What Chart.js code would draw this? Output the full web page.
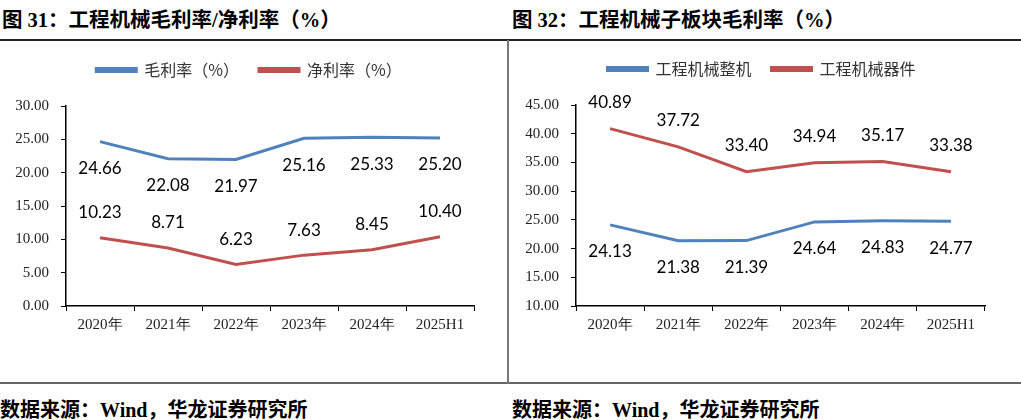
<!DOCTYPE html>
<html lang="zh">
<head>
<meta charset="UTF-8">
<title>工程机械毛利率</title>
<script src="https://cdn.jsdelivr.net/npm/chart.js"></script>
<style>
    body { margin: 0; width: 1021px; height: 420px; background: #fff; position: relative; overflow: hidden; }
    .title { position: absolute; top: 3px; font: bold 20.5px "Liberation Serif", "Noto Sans CJK SC", serif; color: #000; white-space: nowrap; }
    .source { position: absolute; top: 394px; font: bold 20px "Liberation Serif", "Noto Sans CJK SC", serif; color: #000; white-space: nowrap; }
    .hline { position: absolute; left: 0; width: 1021px; }
    .box { position: absolute; top: 42px; height: 340px; }
</style>
</head>
<body>
    <div class="title" style="left:2px">图 31：工程机械毛利率/净利率（%）</div>
    <div class="title" style="left:512px">图 32：工程机械子板块毛利率（%）</div>
    <div class="hline" style="top:39px; height:2px; background:#222"></div>
    <div class="hline" style="top:382px; height:2px; background:#666"></div>
    <div style="position:absolute; left:507px; top:40px; width:2px; height:343px; background:#777"></div>

    <div class="box" style="left:0; width:506px"><canvas id="chart1"></canvas></div>
    <div class="box" style="left:510px; width:511px"><canvas id="chart2"></canvas></div>

    <div class="source" style="left:0">数据来源：Wind，华龙证券研究所</div>
    <div class="source" style="left:512px">数据来源：Wind，华龙证券研究所</div>

<script>
// categories and values
const years = ['2020年', '2021年', '2022年', '2023年', '2024年', '2025H1'];
const grossMargin = [24.66, 22.08, 21.97, 25.16, 25.33, 25.20];
const netMargin = [10.23, 8.71, 6.23, 7.63, 8.45, 10.40];
const machineMargin = [24.13, 21.38, 21.39, 24.64, 24.83, 24.77];
const partsMargin = [40.89, 37.72, 33.40, 34.94, 35.17, 33.38];

const BLUE = '#4F81BD';
const RED = '#C0504D';

// draws the value next to each point, above or below the line
const valueLabels = {
    id: 'valueLabels',
    afterDatasetsDraw(chart) {
        const ctx = chart.ctx;
        ctx.save();
        ctx.font = '17px Lato';
        ctx.fillStyle = '#000';
        ctx.textAlign = 'center';
        ctx.textBaseline = 'middle';
        chart.data.datasets.forEach((ds, i) => {
            chart.getDatasetMeta(i).data.forEach((pt, j) => {
                ctx.fillText(ds.data[j].toFixed(2), pt.x, pt.y + ds.labelOffset);
            });
        });
        ctx.restore();
    }
};

// fixed height for the legend block so the plot area lines up,
// and a small sideways nudge so it sits over the plot like the original
const legendSpace = {
    id: 'legendSpace',
    beforeInit(chart, args, opts) {
        const legend = chart.legend;
        const fit = legend.fit;
        legend.fit = function () {
            fit.call(legend);
            this.height = 64;
        };
        const draw = legend.draw;
        legend.draw = function () {
            const c = this.ctx;
            c.save();
            c.translate(opts.shift || 0, 0);
            draw.call(legend);
            c.restore();
        };
    }
};

function makeChart(id, sets, yMin, yMax, padRight, padTop, shift) {
    return new Chart(document.getElementById(id), {
        type: 'line',
        data: {
            labels: years,
            datasets: sets.map(s => ({
                label: s.label,
                data: s.data,
                borderColor: s.color,
                backgroundColor: s.color,
                borderWidth: 3,
                pointRadius: 0,
                tension: 0,
                labelOffset: s.offset
            }))
        },
        options: {
            responsive: true,
            maintainAspectRatio: false,
            animation: false,
            layout: { padding: { left: 0, right: padRight, top: padTop, bottom: 0 } },
            plugins: {
                tooltip: { enabled: false },
                legendSpace: { shift: shift },
                legend: {
                    position: 'top',
                    labels: {
                        boxWidth: 40,
                        boxHeight: 3,
                        padding: 20,
                        color: '#333',
                        font: { family: '"Noto Sans CJK SC"', size: 16 }
                    }
                }
            },
            scales: {
                x: {
                    offset: true,
                    grid: { drawOnChartArea: false, drawTicks: true, tickLength: 5, color: '#000', offset: true },
                    border: { color: '#000', width: 1.5 },
                    ticks: { color: '#222', padding: 5, font: { family: '"Liberation Serif"', size: 15 } },
                    afterFit: s => { s.height = 76; }
                },
                y: {
                    min: yMin,
                    max: yMax,
                    ticks: {
                        stepSize: 5,
                        color: '#222',
                        padding: 12,
                        font: { family: '"Liberation Serif"', size: 15 },
                        callback: v => v.toFixed(2)
                    },
                    grid: { drawOnChartArea: false, drawTicks: true, tickLength: 5, color: '#000' },
                    border: { color: '#000', width: 1.5 },
                    afterFit: s => { s.width = 66; }
                }
            }
        },
        plugins: [valueLabels, legendSpace]
    });
}

makeChart('chart1', [
    { label: '毛利率（%）', data: grossMargin, color: BLUE, offset: 27 },
    { label: '净利率（%）', data: netMargin, color: RED, offset: -25 }
], 0, 30, 32, 0, 12);

makeChart('chart2', [
    { label: '工程机械整机', data: machineMargin, color: BLUE, offset: 27 },
    { label: '工程机械器件', data: partsMargin, color: RED, offset: -26 }
], 10, 45, 36, -1, 14);
</script>
</body>
</html>
